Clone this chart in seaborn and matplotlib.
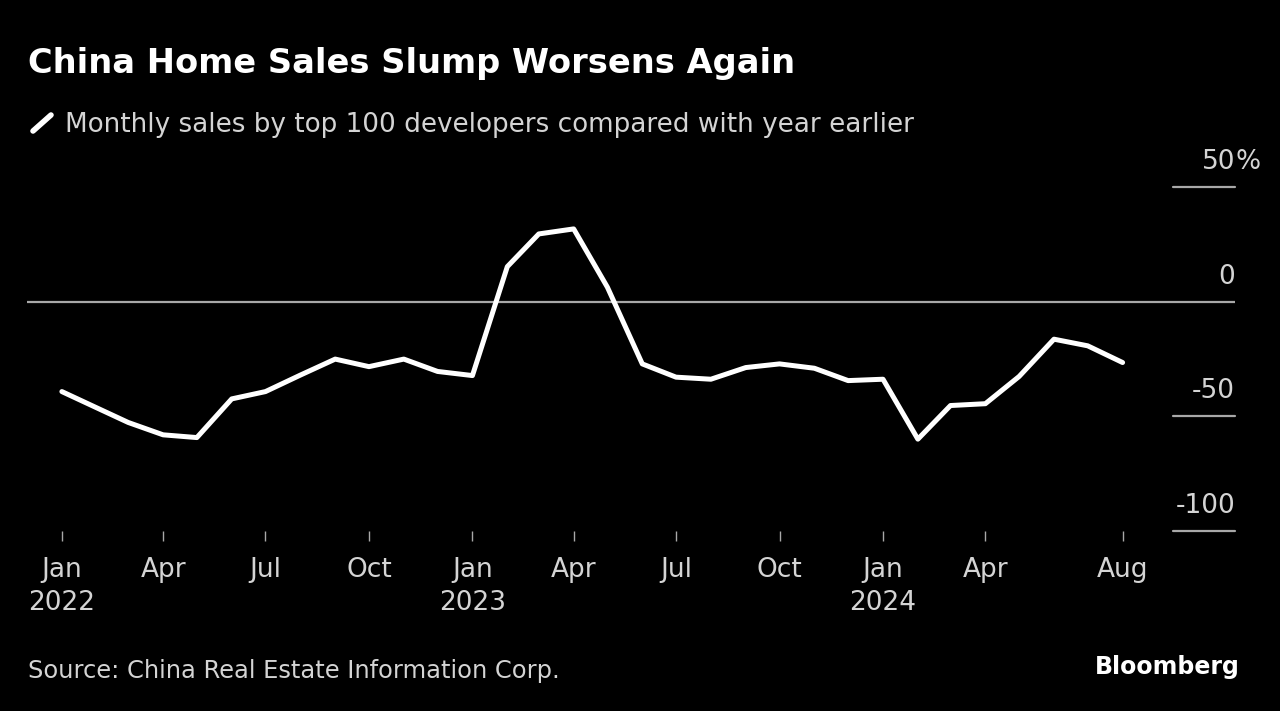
import pandas as pd
import matplotlib
matplotlib.use("Agg")
import matplotlib.pyplot as plt
import matplotlib.transforms as mtransforms
from matplotlib.lines import Line2D
import seaborn as sns

sns.set_style("white")
plt.rcParams["font.family"] = ["DejaVu Sans"]

# monthly sales by top 100 developers, % change y/y
months = pd.date_range("2022-01-01", "2024-08-01", freq="MS")
sales_yoy = [-39.2, -46.3, -52.7, -58.1, -59.3, -42.4, -39.2, -32.0, -25.0, -28.3, -25.0, -30.4,
             -32.2, 15.4, 29.7, 31.9, 6.4, -27.1, -32.9, -33.8, -28.7, -27.1, -29.0, -34.4,
             -33.8, -60.0, -45.3, -44.5, -32.6, -16.3, -19.2, -26.5]

tick_dates = ["2022-01-01", "2022-04-01", "2022-07-01", "2022-10-01", "2023-01-01", "2023-04-01",
              "2023-07-01", "2023-10-01", "2024-01-01", "2024-04-01", "2024-08-01"]
tick_labels = ["Jan\n2022", "Apr", "Jul", "Oct", "Jan\n2023", "Apr", "Jul", "Oct", "Jan\n2024", "Apr", "Aug"]

y_ticks = [50, 0, -50, -100]
y_labels = ["50", "0", "-50", "-100"]
y_unit = "%"

bg = "black"
txt_gray = "#d4d4d4"
line_gray = "#a8a8a8"

fig = plt.figure(figsize=(12.8, 7.11), dpi=100, facecolor=bg)
ax = fig.add_axes([0.0211, 0.2536, 0.9438, 0.4827])
ax.set_facecolor(bg)

sns.lineplot(x=months, y=sales_yoy, ax=ax, color="white", linewidth=3.6, zorder=3)

ax.set_xlim(pd.Timestamp("2021-12-01"), pd.Timestamp("2024-11-09"))
ax.set_ylim(-100, 50)

# y-axis: short rules on the right, full rule at zero
lab_tr = mtransforms.offset_copy(ax.get_yaxis_transform(), fig=fig, y=18, units="dots")
for v, lab in zip(y_ticks, y_labels):
    if v == 0:
        ax.axhline(v, color=line_gray, lw=1.6, zorder=1)
    else:
        ax.axhline(v, xmin=0.9487, xmax=1.0, color=line_gray, lw=1.6, zorder=1, clip_on=False)
    ax.text(1.0, v, lab, transform=lab_tr, ha="right", va="baseline", fontsize=19, color=txt_gray)
ax.text(1.0, y_ticks[0], y_unit, transform=lab_tr, ha="left", va="baseline", fontsize=19, color=txt_gray)

ax.set_yticks([])
ax.set_xticks(pd.to_datetime(tick_dates))
ax.set_xticklabels(tick_labels, linespacing=1.35)
ax.tick_params(axis="x", bottom=True, length=7, width=1.0, color=line_gray, pad=12,
               labelsize=19, labelcolor=txt_gray)
ax.set_xlabel("")
ax.set_ylabel("")
for s in ax.spines.values():
    s.set_visible(False)

# titles and footer
fig.text(28 / 1280, 1 - 73 / 711, "China Home Sales Slump Worsens Again", fontsize=24.2,
         fontweight="bold", color="white", va="baseline")
fig.add_artist(Line2D([33 / 1280, 51 / 1280], [1 - 131 / 711, 1 - 115 / 711], color="white",
                      lw=4, solid_capstyle="round"))
fig.text(65 / 1280, 1 - 132 / 711, "Monthly sales by top 100 developers compared with year earlier",
         fontsize=18.9, color=txt_gray, va="baseline")
fig.text(28 / 1280, 1 - 678 / 711, "Source: China Real Estate Information Corp.", fontsize=17.4,
         color=txt_gray, va="baseline")
fig.text(1240 / 1280, 1 - 674 / 711, "Bloomberg", fontsize=17, fontweight="bold", color="white",
         ha="right", va="baseline")

fig.savefig("out.png", dpi=100, facecolor=bg)
